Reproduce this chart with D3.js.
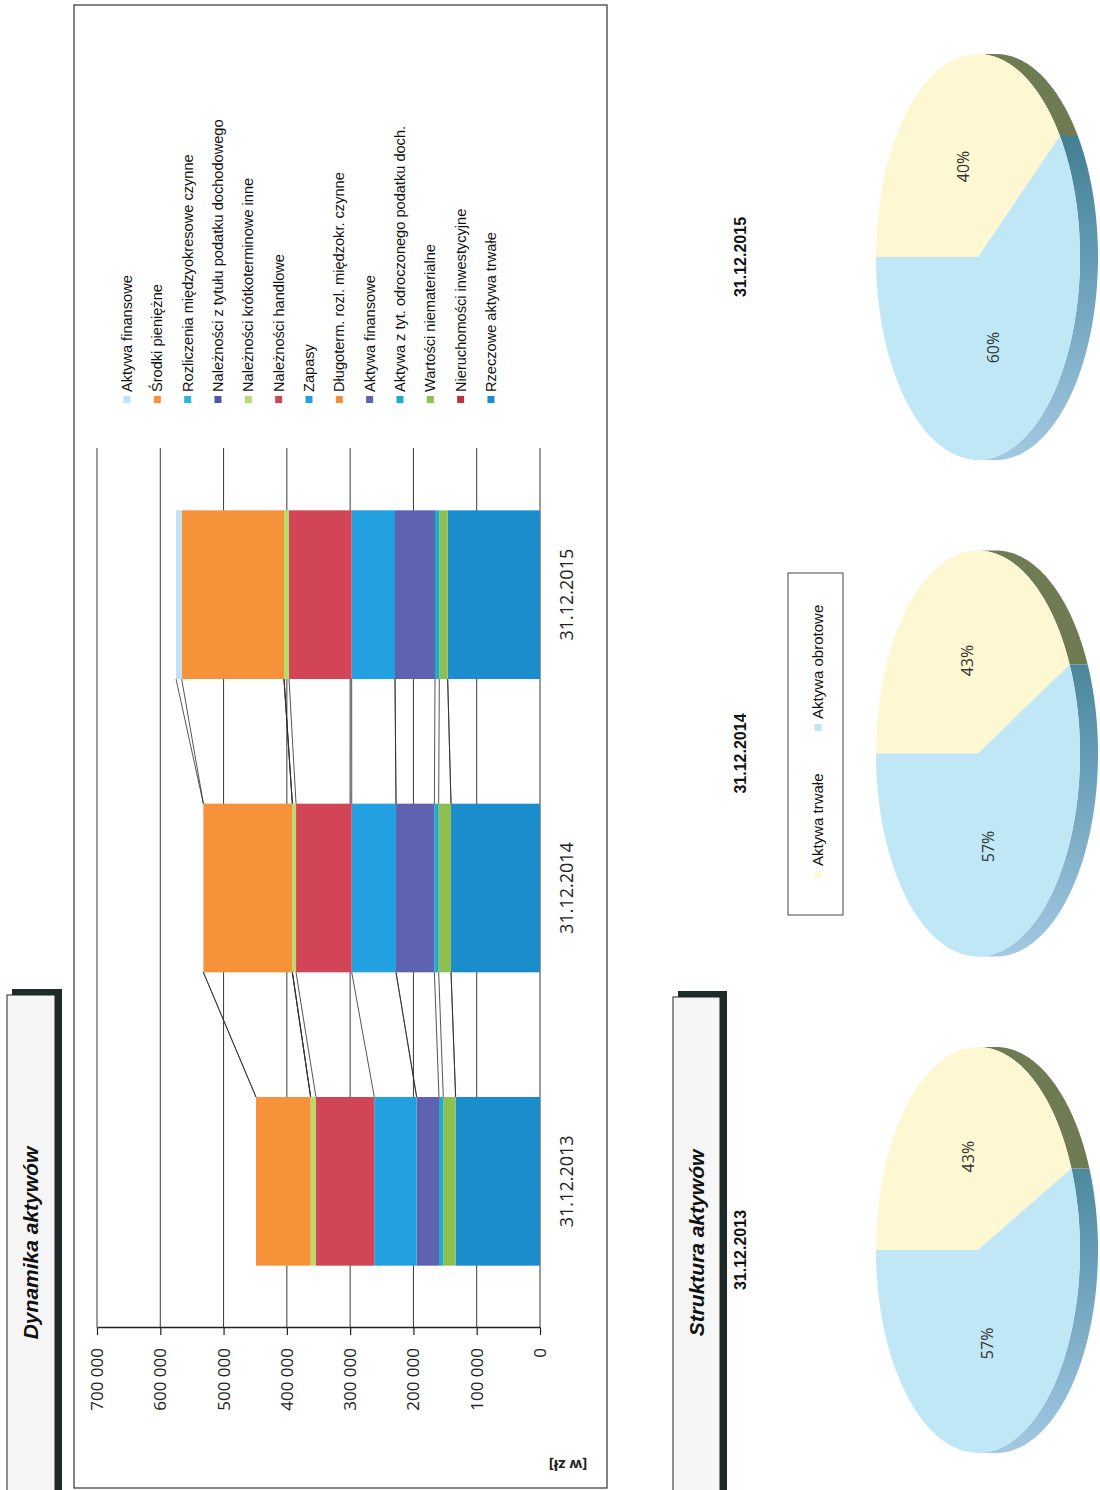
<!DOCTYPE html>
<html lang="pl">
<head>
<meta charset="utf-8">
<script src="https://cdn.jsdelivr.net/npm/d3@7"></script>
<style>
  body { margin: 0; background: #fff; }
  svg { display: block; }
</style>
</head>
<body>
<div class="canvas"></div>
<script>
// data
const categories = ["31.12.2013", "31.12.2014", "31.12.2015"];

// stack order, bottom to top
const seriesNames = [
  "Rzeczowe aktywa trwałe",
  "Nieruchomości inwestycyjne",
  "Wartości niematerialne",
  "Aktywa z tyt. odroczonego podatku doch.",
  "Aktywa finansowe",
  "Długoterm. rozl. międzokr. czynne",
  "Zapasy",
  "Należności handlowe",
  "Należności krótkoterminowe inne",
  "Należności z tytułu podatku dochodowego",
  "Rozliczenia międzyokresowe czynne",
  "Środki pieniężne",
  "Aktywa finansowe"
]
const seriesColors = [
  "#1b8dcc", "#b83444", "#8dc04e", "#22aacb", "#5e62b0", "#f39035", "#22a0df",
  "#d24556", "#b8dc6a", "#4b56a8", "#2ab4d8", "#f6923a", "#bfe3f4"
]
const values2013 = [133300, 0, 19500, 6800, 35300, 0, 66900, 92200, 8400, 0, 0, 86400, 0];
const values2014 = [140600, 0, 19500, 6800, 60600, 0, 70000, 88000, 5800, 0, 0, 140600, 0];
const values2015 = [145900, 0, 13200, 6800, 63200, 0, 68500, 99000, 7900, 0, 0, 161700, 8950];
const valueTicks = [0, 100000, 200000, 300000, 400000, 500000, 600000, 700000];
const nonCurrentCount = 6; // first six series = aktywa trwałe

const pieNames = ["Aktywa trwałe", "Aktywa obrotowe"];
const pieColors = ["#fdf7d2", "#bfe7f6"];

// page is scanned sideways: draw landscape, then turn it
const W = 1490, H = 1100;
const svg = d3.select('.canvas').append('svg')
    .attr('width', 1100)
    .attr('height', 1490)
    .style('background', '#fff')
const page = svg.append('g')
    .attr('transform', `translate(0, ${W}) rotate(-90)`)

const yearValues = [values2013, values2014, values2015];
const keys = seriesNames.map((n, k) => 's' + k);
const table = categories.map((c, i) => {
    const row = { date: c };
    keys.forEach((key, k) => row[key] = yearValues[i][k]);
    return row;
})

// title box helper
function titleBox(x1, y0, y1, label) {
    page.append('rect')
        .attr('x', -10).attr('y', y0 + 5)
        .attr('width', x1 + 16).attr('height', y1 - y0 + 2)
        .attr('fill', '#1d2b2b')
    page.append('rect')
        .attr('x', -10).attr('y', y0)
        .attr('width', x1 + 10).attr('height', y1 - y0)
        .attr('fill', '#f6f6f6')
        .attr('stroke', '#222')
        .attr('stroke-width', 1)
    page.append('text')
        .attr('x', 247).attr('y', (y0 + y1) / 2)
        .attr('dy', '0.35em')
        .attr('text-anchor', 'middle')
        .attr('font-family', 'Liberation Sans, Arial, sans-serif')
        .attr('font-weight', 'bold')
        .attr('font-style', 'italic')
        .attr('font-size', 21)
        .attr('fill', '#111')
        .text(label)
}

titleBox(495, 7, 55, 'Dynamika aktywów');
titleBox(493, 673, 720, 'Struktura aktywów');

// chart frame
page.append('rect')
    .attr('x', 2).attr('y', 74)
    .attr('width', 1483).attr('height', 533)
    .attr('fill', 'none')
    .attr('stroke', '#333')
    .attr('stroke-width', 1.2)

const plot = { left: 162, right: 1042, top: 97, bottom: 540 };

const x = d3.scaleBand()
    .domain(categories)
    .range([plot.left, plot.right])
    .paddingInner(0.425)
    .paddingOuter(0.2125)

const y = d3.scaleLinear()
    .domain([0, 700000])
    .range([plot.bottom, plot.top])

// gridlines
page.append('g').selectAll('line')
    .data(valueTicks)
    .enter()
    .append('line')
    .attr('x1', plot.left).attr('x2', plot.right)
    .attr('y1', d => y(d)).attr('y2', d => y(d))
    .attr('stroke', '#3a3a3a')
    .attr('stroke-width', 1)

const stacked = d3.stack().keys(keys)(table);

// bars
page.append('g').selectAll('g')
    .data(stacked)
    .enter()
    .append('g')
    .attr('fill', (d, k) => seriesColors[k])
    .selectAll('rect')
    .data(d => d)
    .enter()
    .append('rect')
    .attr('x', d => x(d.data.date))
    .attr('width', x.bandwidth())
    .attr('y', d => y(d[1]))
    .attr('height', d => y(d[0]) - y(d[1]))

// series lines between neighbouring bars
const seriesLines = [];
stacked.forEach(layer => {
    for (let i = 0; i < layer.length - 1; i++) {
        seriesLines.push({ a: layer[i], b: layer[i + 1] });
    }
})
page.append('g').selectAll('line')
    .data(seriesLines)
    .enter()
    .append('line')
    .attr('x1', d => x(d.a.data.date) + x.bandwidth())
    .attr('y1', d => y(d.a[1]))
    .attr('x2', d => x(d.b.data.date))
    .attr('y2', d => y(d.b[1]))
    .attr('stroke', '#2a2a2a')
    .attr('stroke-width', 0.8)

// value axis
const yAxis = d3.axisLeft(y)
    .tickValues(valueTicks)
    .tickSizeInner(7)
    .tickSizeOuter(0)
    .tickPadding(13)
    .tickFormat(d => d3.format(',')(d).replace(/,/g, ' '))

const yAxisGroup = page.append('g')
    .attr('transform', `translate(${plot.left}, 0)`)
    .call(yAxis)
yAxisGroup.select('.domain').attr('stroke', '#222').attr('stroke-width', 1.3)
yAxisGroup.selectAll('line').attr('stroke', '#222').attr('stroke-width', 1.2)
yAxisGroup.selectAll('text')
    .attr('font-family', 'Open Sans, Lato, sans-serif')
    .attr('font-size', 17)
    .attr('fill', '#222')

// category axis
const xAxisGroup = page.append('g')
    .attr('transform', `translate(0, ${plot.bottom})`)
    .call(d3.axisBottom(x).tickSize(0).tickPadding(20))
xAxisGroup.select('.domain').remove()
xAxisGroup.selectAll('text')
    .attr('font-family', 'Open Sans, Lato, sans-serif')
    .attr('font-size', 18)
    .attr('fill', '#222')

page.append('text')
    .attr('transform', 'translate(30, 568) rotate(-90)')
    .attr('text-anchor', 'middle')
    .attr('font-family', 'Open Sans, Lato, sans-serif')
    .attr('font-weight', 'bold')
    .attr('font-size', 15)
    .attr('fill', '#222')
    .text('[w zł]')

// legend, top of the stack first
const legendItems = seriesNames.map((n, k) => ({ name: n, color: seriesColors[k] })).reverse();
const legend = page.append('g')
    .selectAll('g')
    .data(legendItems)
    .enter()
    .append('g')
    .attr('transform', (d, i) => `translate(1087, ${127 + i * 30.33})`)
legend.append('rect')
    .attr('x', 0).attr('y', -3.5)
    .attr('width', 7).attr('height', 7)
    .attr('fill', d => d.color)
legend.append('text')
    .attr('x', 11)
    .attr('dy', '0.35em')
    .attr('font-family', 'Liberation Sans, Arial, sans-serif')
    .attr('font-size', 14.6)
    .attr('fill', '#111')
    .text(d => d.name)

// pies
const pieX = d3.scalePoint().domain(categories).range([240, 1233]);
const pieY = 978, rx = 203, ry = 102, depth = 18;
const pie = d3.pie().sort(null).value(d => d.value);
const arc = d3.arc().innerRadius(0).outerRadius(rx);
const defs = svg.append('defs');
const line = d3.line();

function rim(a0, a1, cx) {
    const s = Math.max(a0, Math.PI / 2), e = Math.min(a1, Math.PI * 1.5);
    if (s >= e) return null;
    const angles = d3.range(s, e, 0.02).concat([e]);
    const top = angles.map(a => [cx + rx * Math.sin(a), pieY - ry * Math.cos(a)]);
    const bottom = top.slice().reverse().map(p => [p[0], p[1] + depth]);
    return line(top.concat(bottom)) + 'Z';
}

categories.forEach((c, i) => {
    const vals = yearValues[i];
    const nonCurrent = d3.sum(vals.slice(0, nonCurrentCount));
    const current = d3.sum(vals.slice(nonCurrentCount));
    const slices = pie([
        { name: pieNames[0], value: nonCurrent },
        { name: pieNames[1], value: current }
    ]);
    const total = nonCurrent + current;
    const cx = pieX(c);

    const grad = defs.append('linearGradient')
        .attr('id', 'rim' + i)
        .attr('gradientUnits', 'userSpaceOnUse')
        .attr('x1', cx - rx).attr('x2', cx + rx)
        .attr('y1', 0).attr('y2', 0)
    grad.append('stop').attr('offset', 0).attr('stop-color', '#a3c8e2')
    grad.append('stop').attr('offset', 0.55).attr('stop-color', '#5e97b0')
    grad.append('stop').attr('offset', 1).attr('stop-color', '#2b6b78')

    const pg = page.append('g');
    pg.selectAll('path.rim')
        .data(slices)
        .enter()
        .append('path')
        .attr('class', 'rim')
        .attr('d', d => rim(d.startAngle, d.endAngle, cx))
        .attr('fill', (d, k) => k === 0 ? '#6f7b52' : `url(#rim${i})`)

    pg.append('g')
        .attr('transform', `translate(${cx}, ${pieY}) scale(1, ${ry / rx})`)
        .selectAll('path')
        .data(slices)
        .enter()
        .append('path')
        .attr('d', arc)
        .attr('fill', (d, k) => pieColors[k])

    pg.selectAll('text.pct')
        .data(slices)
        .enter()
        .append('text')
        .attr('class', 'pct')
        .attr('x', d => cx + rx * 0.47 * Math.sin((d.startAngle + d.endAngle) / 2))
        .attr('y', d => pieY - ry * 0.47 * Math.cos((d.startAngle + d.endAngle) / 2))
        .attr('dy', '0.35em')
        .attr('text-anchor', 'middle')
        .attr('font-family', 'Open Sans, Lato, sans-serif')
        .attr('font-size', 16)
        .attr('fill', '#333')
        .text(d => Math.round(d.value / total * 100) + '%')

    page.append('text')
        .attr('x', cx).attr('y', 740)
        .attr('dy', '0.35em')
        .attr('text-anchor', 'middle')
        .attr('font-family', 'Liberation Sans Narrow, Arial Narrow, Liberation Sans, sans-serif')
        .attr('font-weight', 'bold')
        .attr('font-size', 16)
        .attr('fill', '#111')
        .text(c)
})

// pie legend
const pieLegend = page.append('g').attr('transform', 'translate(575, 788)');
pieLegend.append('rect')
    .attr('width', 342).attr('height', 55)
    .attr('fill', '#fff')
    .attr('stroke', '#444')
    .attr('stroke-width', 1)
const pieLegendItems = pieLegend.selectAll('g')
    .data(pieNames)
    .enter()
    .append('g')
    .attr('transform', (d, i) => `translate(${i === 0 ? 37 : 184}, 30)`)
pieLegendItems.append('rect')
    .attr('y', -3.5)
    .attr('width', 7).attr('height', 7)
    .attr('fill', (d, i) => pieColors[i])
pieLegendItems.append('text')
    .attr('x', 12)
    .attr('dy', '0.35em')
    .attr('font-family', 'Liberation Sans, Arial, sans-serif')
    .attr('font-size', 15)
    .attr('fill', '#111')
    .text(d => d)
</script>
</body>
</html>
